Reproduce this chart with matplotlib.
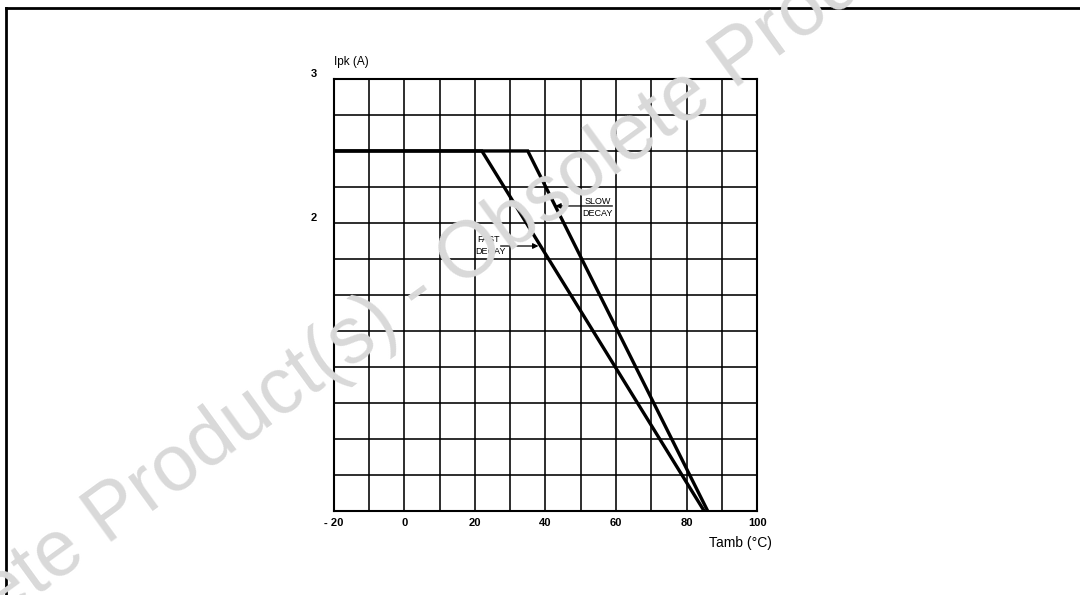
#!/usr/bin/env python3

import numpy as np
import matplotlib
matplotlib.use("Agg")
import matplotlib.pyplot as plt
from matplotlib.lines import Line2D

# Derating curves
tamb_fast = [-20, 22, 85]
ipk_fast = [2.5, 2.5, 0.0]
tamb_slow = [-20, 35, 86]
ipk_slow = [2.5, 2.5, 0.0]

x_ticks = [-20, 0, 20, 40, 60, 80, 100]
x_tick_labels = ["- 20", "0", "20", "40", "60", "80", "100"]
y_ticks = [2, 3]
y_tick_labels = ["2", "3"]

watermark = "Obsolete Product(s) - Obsolete Product(s)"

plt.rcParams["font.family"] = ["Liberation Sans", "DejaVu Sans"]

fig = plt.figure(figsize=(10.8, 5.95), dpi=100)

# Page frame (only top and left edges are visible in the crop)
fig.add_artist(Line2D([0.0055, 1.0], [0.987, 0.987], color="black", lw=2.0,
                      transform=fig.transFigure))
fig.add_artist(Line2D([0.0055, 0.0055], [0.0, 0.987], color="black", lw=2.0,
                      transform=fig.transFigure))

ax = fig.add_axes([0.309, 0.1412, 0.392, 0.7261])
ax.set_xlim(-20, 100)
ax.set_ylim(0, 3)

# Grid: every 10 degC and every 0.25 A
for gx in np.arange(-10, 100, 10):
    ax.axvline(gx, color="black", lw=1.15, zorder=1)
for gy in np.arange(0.25, 3, 0.25):
    ax.axhline(gy, color="black", lw=1.15, zorder=1)

for side in ["left", "right", "top", "bottom"]:
    ax.spines[side].set_linewidth(1.5)

ax.plot(tamb_fast, ipk_fast, color="black", lw=2.4, zorder=3,
        solid_joinstyle="miter")
ax.plot(tamb_slow, ipk_slow, color="black", lw=2.4, zorder=3,
        solid_joinstyle="miter")

ax.set_xticks(x_ticks)
ax.set_xticklabels(x_tick_labels, fontsize=8)
ax.set_yticks(y_ticks)
ax.set_yticklabels(y_tick_labels, fontsize=8)
ax.tick_params(axis="both", length=0)
ax.tick_params(axis="x", pad=5)
ax.tick_params(axis="y", pad=12)
for lbl in ax.get_xticklabels() + ax.get_yticklabels():
    lbl.set_fontweight("bold")
for lbl in ax.get_yticklabels():
    lbl.set_va("bottom")

ax.text(0.0, 1.04, "Ipk (A)", transform=ax.transAxes, fontsize=8.5,
        ha="left", va="center")
fig.text(0.715, 0.087, "Tamb (°C)", fontsize=10, ha="right", va="center")

# Curve labels with arrows pointing onto the curves
slow_y = 2.118
slow_tip = np.interp(slow_y, ipk_slow[::-1], tamb_slow[::-1])
ax.text(54.9, 2.15, "SLOW", fontsize=6.5, ha="center", va="center")
ax.text(54.7, 2.065, "DECAY", fontsize=6.5, ha="center", va="center")
ax.annotate("", xy=(slow_tip, slow_y), xytext=(59.0, slow_y),
            arrowprops=dict(arrowstyle="-|>", color="black", lw=0.9,
                            mutation_scale=8, shrinkA=0, shrinkB=0))

fast_y = 1.84
fast_tip = np.interp(fast_y, ipk_fast[::-1], tamb_fast[::-1])
ax.text(23.8, 1.885, "FAST", fontsize=6.5, ha="center", va="center")
ax.text(24.4, 1.805, "DECAY", fontsize=6.5, ha="center", va="center")
ax.annotate("", xy=(fast_tip - 0.6, fast_y), xytext=(27.3, fast_y),
            arrowprops=dict(arrowstyle="-|>", color="black", lw=0.9,
                            mutation_scale=8, shrinkA=0, shrinkB=0))

# Grey watermark over the whole page
fig.text(0.387, 0.508, watermark, fontsize=57, color="#d9d9d9",
         rotation=36, rotation_mode="anchor", ha="center", va="center",
         zorder=10)

fig.savefig("out.png", dpi=100)
